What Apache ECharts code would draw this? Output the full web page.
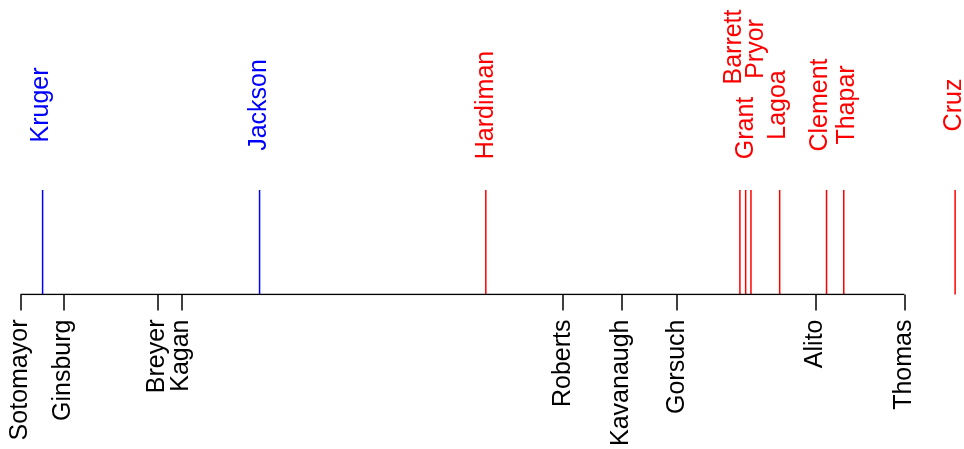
<!DOCTYPE html>
<html>
<head>
<meta charset="utf-8">
<script src="https://cdn.jsdelivr.net/npm/echarts@6/dist/echarts.min.js"></script>
<style>html,body{margin:0;padding:0;background:#fff;}#c{width:964px;height:449px;}</style>
</head>
<body>
<div id="c"></div>
<script>
// Sitting justices (axis ticks), on an ideology-like score scale
var justiceNames = ['Sotomayor','Ginsburg','Breyer','Kagan','Roberts','Kavanaugh','Gorsuch','Alito','Thomas'];
var justiceScores = [-1.000, -0.903, -0.690, -0.636, 0.228, 0.360, 0.485, 0.799, 1.000];

// Nominees / candidates (spikes above the axis)
var nomineeNames = ['Kruger','Jackson','Hardiman','Barrett','Grant','Pryor','Lagoa','Clement','Thapar','Cruz'];
var nomineeScores = [-0.950, -0.459, 0.053, 0.628, 0.641, 0.653, 0.718, 0.824, 0.863, 1.115];
var nomineeParty = ['D','D','R','R','R','R','R','R','R','R'];

// label layout nudges (pixels) for crowded labels
var labelNudgeX = {Barrett:-5.7, Grant:0.3, Pryor:5, Lagoa:-1.7, Clement:-6.7, Thapar:3.3, Cruz:-1, Kruger:-1.5, Jackson:-0.5};
var labelCenterAbove = {Barrett:143, Grant:62, Pryor:141};

var FONT = '25px "Liberation Sans", Arial, sans-serif';
var partyColor = {D:'#0000ff', R:'#ff0000'};

var spikeData = nomineeNames.map(function(n,i){ return [nomineeScores[i], 1, i]; });

var chart = echarts.init(document.getElementById('c'), null, {renderer:'canvas'});
chart.setOption({
  animation:false,
  backgroundColor:'#ffffff',
  grid:{left:0, right:0, top:190, bottom:151, containLabel:false},
  xAxis:{
    type:'value', min:-1.0464, max:1.1351,
    axisLine:{show:false},
    splitLine:{show:false},
    axisTick:{show:true, customValues:justiceScores, length:16, inside:false,
      lineStyle:{color:'#000', width:1.5}},
    axisLabel:{show:true, customValues:justiceScores, rotate:90, margin:25,
      color:'#000', fontSize:25, fontFamily:'"Liberation Sans", Arial, sans-serif',
      formatter:function(v){
        var best=0, bd=1e9;
        for(var i=0;i<justiceScores.length;i++){var d=Math.abs(justiceScores[i]-v); if(d<bd){bd=d;best=i;}}
        return justiceNames[best];
      }}
  },
  yAxis:{type:'value', min:0, max:1, show:false},
  series:[
    {
      type:'line', silent:true, symbol:'none',
      data:[[justiceScores[0],0],[justiceScores[justiceScores.length-1],0]],
      lineStyle:{color:'#000', width:1.5}
    },
    {
      type:'custom', silent:true,
      data:spikeData,
      renderItem:function(params, api){
        var i = api.value(2);
        var name = nomineeNames[i];
        var col = partyColor[nomineeParty[i]];
        var top = api.coord([api.value(0), api.value(1)]);
        var bot = api.coord([api.value(0), 0]);
        var above = labelCenterAbove[name] !== undefined ? labelCenterAbove[name] : 85;
        var dx = labelNudgeX[name] || 0;
        return {type:'group', children:[
          {type:'line', shape:{x1:top[0], y1:top[1], x2:bot[0], y2:bot[1]},
           style:{stroke:col, lineWidth:1.5}},
          {type:'text', x:top[0]+dx, y:top[1]-above, rotation:Math.PI/2,
           style:{text:name, fill:col, font:FONT, align:'center', verticalAlign:'middle'}}
        ]};
      }
    }
  ]
});
</script>
</body>
</html>
